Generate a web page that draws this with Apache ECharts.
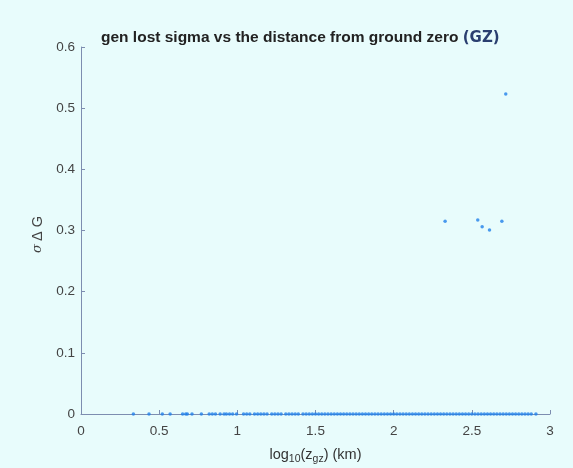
<!DOCTYPE html>
<html><head><meta charset="utf-8">
<script src="https://cdn.jsdelivr.net/npm/echarts@6/dist/echarts.min.js"></script>
<style>html,body{margin:0;padding:0;background:#e8fcfc}#c{width:573px;height:468px}</style>
</head><body><div id="c"></div>
<script>
// Outlier points (log10 distance, sigma)
const outlierX = [2.329, 2.538, 2.566, 2.613, 2.692, 2.717];
const outlierY = [0.315, 0.317, 0.306, 0.301, 0.315, 0.523];
// Points lying on sigma = 0
const zeroX = [0.335, 0.435, 0.52, 0.57, 0.65, 0.67, 0.68, 0.71, 0.77, 0.82, 0.84, 0.86, 0.89,
  0.915, 0.93, 0.95, 0.97, 0.995, 1.04, 1.06, 1.08, 1.11, 1.13, 1.15, 1.17, 1.19, 1.22, 1.24,
  1.26, 1.28, 1.31, 1.33, 1.35, 1.37, 1.39, 1.42, 1.44, 1.46, 1.48, 1.5, 1.52, 1.54, 1.56,
  1.58, 1.6, 1.62, 1.64, 1.66, 1.68, 1.7, 1.72, 1.74, 1.76, 1.78, 1.8, 1.82, 1.84, 1.86,
  1.88, 1.9, 1.92, 1.94, 1.96, 1.98, 2.0, 2.02, 2.04, 2.06, 2.08, 2.1, 2.12, 2.14, 2.16,
  2.18, 2.2, 2.22, 2.24, 2.26, 2.28, 2.3, 2.32, 2.34, 2.36, 2.38, 2.4, 2.42, 2.44, 2.46,
  2.48, 2.5, 2.52, 2.54, 2.56, 2.58, 2.6, 2.62, 2.64, 2.66, 2.68, 2.7, 2.72, 2.74, 2.76,
  2.78, 2.8, 2.82, 2.84, 2.86, 2.88, 2.91];
const yTicks = [0, 0.1, 0.2, 0.3, 0.4, 0.5, 0.6];
const xTicks = [0, 0.5, 1, 1.5, 2, 2.5, 3];

const pts = zeroX.map(x => [x, 0]).concat(outlierX.map((x, i) => [x, outlierY[i]]));
const axisCol = '#7d8db0';
const chart = echarts.init(document.getElementById('c'));
chart.setOption({
  backgroundColor: '#e8fcfc',
  animation: false,
  title: {
    text: '{a|gen lost sigma vs the distance from ground zero }{b|(GZ)}',
    left: 96, top: 25,
    textStyle: {
      rich: {
        a: {fontFamily: 'Liberation Sans', fontWeight: 'bold', fontSize: 15.5, color: '#222'},
        b: {fontFamily: 'DejaVu Sans', fontSize: 15, color: '#2a3f70'}
      }
    }
  },
  grid: {left: 81, right: 23, top: 47, bottom: 54, containLabel: false, outerBoundsMode: 'none'},
  xAxis: {
    type: 'value', min: xTicks[0], max: xTicks[xTicks.length - 1], interval: 0.5,
    name: '{t|log}{s|10}{t|(z}{s|gz}{t|) (km)}',
    nameLocation: 'middle', nameGap: 31,
    nameTextStyle: {rich: {
      t: {fontFamily: 'Liberation Sans', fontSize: 14.5, color: '#333'},
      s: {fontFamily: 'Liberation Sans', fontSize: 10.5, color: '#333', padding: [9, 0, 0, 0]}
    }},
    axisLine: {show: true, lineStyle: {color: axisCol}},
    axisTick: {show: true, inside: true, length: 4, lineStyle: {color: axisCol}},
    axisLabel: {color: '#444', fontSize: 13.5, fontFamily: 'Liberation Sans', margin: 10,
      formatter: v => String(v)},
    splitLine: {show: false}
  },
  yAxis: {
    type: 'value', min: yTicks[0], max: yTicks[yTicks.length - 1], interval: 0.1,
    name: '{i|σ} {t|Δ G}',
    nameLocation: 'middle', nameGap: 27,
    nameTextStyle: {padding: [0, 8, 0, 0], rich: {
      i: {fontFamily: 'DejaVu Serif', fontStyle: 'italic', fontSize: 13, color: '#444'},
      t: {fontFamily: 'Liberation Sans', fontSize: 14.5, color: '#444'}
    }},
    axisLine: {show: true, lineStyle: {color: axisCol}},
    axisTick: {show: true, inside: true, length: 4, lineStyle: {color: axisCol}},
    axisLabel: {color: '#444', fontSize: 13.5, fontFamily: 'Liberation Sans', margin: 6,
      formatter: v => String(Math.round(v * 10) / 10)},
    splitLine: {show: false}
  },
  series: [{
    type: 'scatter', data: pts, symbol: 'circle', symbolSize: 3.5,
    itemStyle: {color: '#1f80ea'}
  }]
});
</script></body></html>
